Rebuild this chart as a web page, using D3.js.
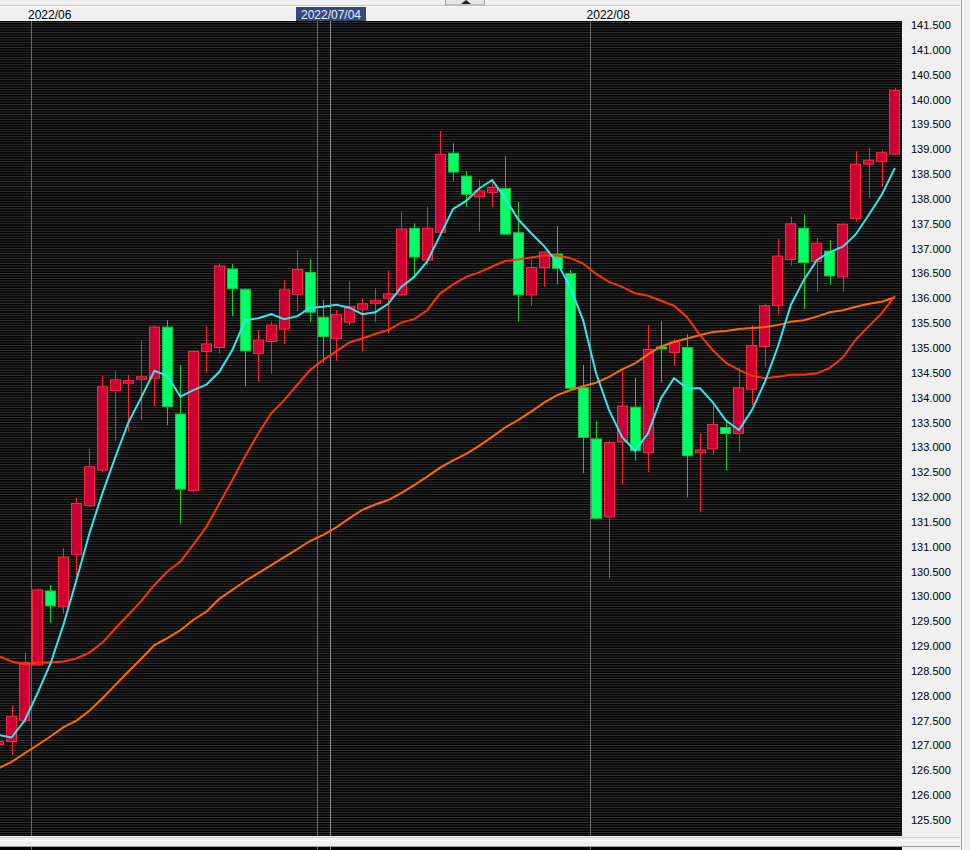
<!DOCTYPE html>
<html><head><meta charset="utf-8">
<script src="https://cdn.jsdelivr.net/npm/d3@7"></script>
<style>
html,body{margin:0;padding:0;background:#f0f0f0;overflow:hidden}
svg{display:block}
text{font-family:"Liberation Sans",Arial,sans-serif}
</style></head><body>
<svg id="chart" width="970" height="850"></svg>
<script>
const dates = ["2022/05/27","2022/05/30","2022/05/31","2022/06/01","2022/06/02","2022/06/03","2022/06/06","2022/06/07","2022/06/08","2022/06/09","2022/06/10","2022/06/13","2022/06/14","2022/06/15","2022/06/16","2022/06/17","2022/06/20","2022/06/21","2022/06/22","2022/06/23","2022/06/24","2022/06/27","2022/06/28","2022/06/29","2022/06/30","2022/07/01","2022/07/04","2022/07/05","2022/07/06","2022/07/07","2022/07/08","2022/07/11","2022/07/12","2022/07/13","2022/07/14","2022/07/15","2022/07/18","2022/07/19","2022/07/20","2022/07/21","2022/07/22","2022/07/25","2022/07/26","2022/07/27","2022/07/28","2022/07/29","2022/08/01","2022/08/02","2022/08/03","2022/08/04","2022/08/05","2022/08/08","2022/08/09","2022/08/10","2022/08/11","2022/08/12","2022/08/15","2022/08/16","2022/08/17","2022/08/18","2022/08/19","2022/08/22","2022/08/23","2022/08/24","2022/08/25","2022/08/26","2022/08/29","2022/08/30","2022/08/31","2022/09/01"];
const openValues  = [127.02,127.08,127.50,128.62,130.11,129.79,130.84,131.83,132.54,134.14,134.29,134.37,134.39,135.42,133.67,132.13,134.93,135.01,136.59,136.18,134.89,135.13,135.38,136.08,136.52,135.62,135.19,135.52,135.78,135.90,136.00,136.07,137.41,136.77,137.33,138.92,138.46,138.04,138.13,138.21,137.32,136.07,136.62,136.89,136.50,134.20,133.17,131.60,133.11,133.81,132.89,135.02,134.91,135.01,132.89,132.97,133.40,133.28,134.17,135.03,135.85,136.78,137.41,136.74,136.95,136.43,137.61,138.70,138.75,138.90];
const highValues  = [127.20,127.80,128.87,130.16,130.23,130.97,131.99,132.97,134.44,134.54,134.46,135.15,135.45,135.56,134.66,134.95,135.43,136.71,136.69,136.20,135.36,135.53,136.37,136.97,136.79,135.97,135.76,136.34,135.99,136.20,136.55,137.74,137.51,137.84,139.37,139.12,138.56,138.38,138.38,138.86,137.94,136.78,136.95,137.45,136.57,134.66,133.53,133.13,134.54,134.40,135.46,135.54,135.18,135.28,133.28,133.85,133.52,134.61,135.46,135.89,137.19,137.64,137.68,137.21,137.17,137.52,138.96,139.03,138.98,140.23];
const lowValues   = [126.90,126.81,127.45,128.60,129.47,129.65,130.40,131.80,132.50,133.13,133.32,133.55,133.83,133.45,131.46,132.09,134.50,134.89,135.64,134.23,134.32,134.48,135.08,135.74,135.52,134.70,134.74,135.46,134.93,135.52,135.30,136.05,136.43,136.66,137.30,138.36,137.84,137.34,137.84,137.28,135.53,135.85,136.23,136.28,134.15,132.48,131.55,130.37,132.26,132.73,132.50,134.30,134.64,131.99,131.69,132.85,132.53,132.91,133.85,134.61,135.68,136.66,135.78,136.13,136.27,136.13,137.54,138.02,138.25,138.88];
const closeValues = [127.08,127.58,128.67,130.13,129.81,130.79,131.87,132.61,134.22,134.36,134.34,134.42,135.42,133.82,132.16,134.93,135.08,136.65,136.19,134.94,135.16,135.46,136.17,136.58,135.72,135.23,135.67,135.83,135.89,135.96,136.09,137.39,136.83,137.41,138.90,138.54,138.09,138.16,138.23,137.29,136.07,136.62,136.93,136.60,134.19,133.20,131.57,133.10,133.83,132.93,134.97,134.98,135.12,132.83,132.95,133.46,133.28,134.20,135.05,135.85,136.85,137.50,136.72,137.11,136.45,137.49,138.70,138.78,138.93,140.18];
const ma5Values  = [127.21,127.16,127.50,128.05,128.65,129.43,130.33,131.27,132.08,132.81,133.50,134.01,134.54,134.44,134.02,134.15,134.26,134.52,134.96,135.56,135.60,135.68,135.58,135.64,135.81,135.83,135.87,135.81,135.68,135.72,135.89,136.23,136.43,136.74,137.27,137.80,137.96,138.21,138.38,138.01,137.59,137.31,137.05,136.72,136.23,135.56,134.49,133.75,133.21,132.93,133.28,133.99,134.39,134.19,134.19,133.90,133.54,133.35,133.75,134.32,135.03,135.87,136.37,136.77,136.93,137.04,137.29,137.68,138.09,138.62];
const ma25Values = [128.80,128.69,128.63,128.67,128.67,128.69,128.75,128.87,129.07,129.36,129.63,129.91,130.23,130.50,130.70,131.04,131.40,131.87,132.34,132.83,133.28,133.69,133.95,134.26,134.56,134.76,134.93,135.11,135.19,135.28,135.36,135.51,135.58,135.76,136.10,136.28,136.43,136.52,136.64,136.75,136.78,136.82,136.86,136.86,136.81,136.70,136.49,136.33,136.23,136.10,136.05,135.95,135.85,135.62,135.26,134.95,134.70,134.56,134.44,134.39,134.42,134.46,134.46,134.49,134.60,134.81,135.17,135.44,135.70,136.05];
const ma75Values = [126.54,126.67,126.84,127.01,127.18,127.37,127.50,127.70,127.95,128.22,128.49,128.75,129.02,129.16,129.32,129.53,129.69,129.95,130.13,130.31,130.47,130.63,130.79,130.95,131.12,131.24,131.39,131.57,131.74,131.85,131.94,132.08,132.24,132.41,132.59,132.74,132.87,133.03,133.21,133.40,133.55,133.72,133.90,134.05,134.15,134.23,134.30,134.42,134.57,134.69,134.87,135.03,135.12,135.19,135.26,135.32,135.34,135.38,135.40,135.42,135.46,135.53,135.56,135.63,135.72,135.76,135.83,135.89,135.93,136.02];
const priceTicks = [125.5,126,126.5,127,127.5,128,128.5,129,129.5,130,130.5,131,131.5,132,132.5,133,133.5,134,134.5,135,135.5,136,136.5,137,137.5,138,138.5,139,139.5,140,140.5,141,141.5];
const monthStarts = ["2022/06/01","2022/07/01","2022/08/01"];
const monthLabels = ["2022/06","","2022/08"];   // 2022/07 label hidden under the cursor label
const cursorDate = "2022/07/04";

const svg = d3.select("#chart");
const W = 970, H = 850;
const plot = {left:0, right:902, top:21, bottom:836};

const x = d3.scaleBand().domain(dates).range([-7.96, 901.34]).padding(0);
const bw = x.bandwidth();
const y = d3.scaleLinear().domain([125.5, 141.5]).range([820, 25]);
const cx = d => x(d) + bw/2;

// background UI
svg.append("rect").attr("x",0).attr("y",0).attr("width",W).attr("height",H).attr("fill","#f0f0f0");
svg.append("line").attr("x1",0).attr("x2",960).attr("y1",5.5).attr("y2",5.5).attr("stroke","#c4c4c4");
svg.append("line").attr("x1",0).attr("x2",960).attr("y1",6.5).attr("y2",6.5).attr("stroke","#ffffff");
// top tab
svg.append("rect").attr("x",445.5).attr("y",-3).attr("width",39).attr("height",8).attr("fill","#e4e4e4").attr("stroke","#a8a8a8");
svg.append("path").attr("d","M461,4 L466,0 L471,4 Z").attr("fill","#202020");

// right border
svg.append("line").attr("x1",961.5).attr("x2",961.5).attr("y1",0).attr("y2",H).attr("stroke","#a0a0a0");
svg.append("line").attr("x1",962.5).attr("x2",962.5).attr("y1",0).attr("y2",H).attr("stroke","#ffffff");

// plot background
svg.append("rect").attr("x",plot.left).attr("y",plot.top).attr("width",plot.right-plot.left).attr("height",plot.bottom-plot.top).attr("fill","#000");

// bottom separator & lower panel
svg.append("line").attr("x1",0).attr("x2",960).attr("y1",837.5).attr("y2",837.5).attr("stroke","#d0d0d0");
svg.append("line").attr("x1",0).attr("x2",960).attr("y1",840.5).attr("y2",840.5).attr("stroke","#ffffff");
svg.append("line").attr("x1",0).attr("x2",960).attr("y1",846.5).attr("y2",846.5).attr("stroke","#a0a0a0");
svg.append("rect").attr("x",0).attr("y",847).attr("width",plot.right).attr("height",3).attr("fill","#000");

const defs = svg.append("defs");
defs.append("clipPath").attr("id","clip").append("rect")
  .attr("x",plot.left).attr("y",plot.top).attr("width",plot.right-plot.left).attr("height",plot.bottom-plot.top);

const g = svg.append("g").attr("clip-path","url(#clip)");

// horizontal stripes (price grid every 0.05), covering the whole panel
const stripeVals = d3.range(0, 340).map(k => 125.15 + k*0.05);
g.append("g").selectAll("line").data(stripeVals).join("line")
  .attr("x1",0).attr("x2",plot.right)
  .attr("y1",v=>y(v)).attr("y2",v=>y(v))
  .attr("stroke","#333333").attr("stroke-width",1);

// month lines + cursor line
const vlines = monthStarts.concat([cursorDate]);
[g, svg.append("g")].forEach((grp,k)=>{
  grp.append("g").selectAll("line").data(vlines).join("line")
    .attr("x1",d=>Math.round(x(d))+0.5).attr("x2",d=>Math.round(x(d))+0.5)
    .attr("y1",k===0?plot.top:847).attr("y2",k===0?plot.bottom:850)
    .attr("stroke",d=>d===cursorDate?"#8c8c8c":"#6a6a6a").attr("stroke-width",1);
});

// candles
const idx = d3.range(dates.length);
const cg = g.append("g");
cg.selectAll("line.wick").data(idx).join("line").attr("class","wick")
  .attr("x1",i=>Math.round(cx(dates[i]))+0.5).attr("x2",i=>Math.round(cx(dates[i]))+0.5)
  .attr("y1",i=>y(highValues[i])).attr("y2",i=>y(lowValues[i]))
  .attr("stroke",i=>closeValues[i]>=openValues[i]?"#ff2030":"#18d018").attr("stroke-width",1);
cg.selectAll("rect.body").data(idx).join("rect").attr("class","body")
  .attr("x",i=>Math.round(x(dates[i]))+1.5)
  .attr("width",Math.round(bw)-3)
  .attr("y",i=>y(Math.max(openValues[i],closeValues[i])))
  .attr("height",i=>Math.max(1.5,Math.abs(y(openValues[i])-y(closeValues[i]))))
  .attr("fill",i=>closeValues[i]>=openValues[i]?"#cc0033":"#00ff66")
  .attr("stroke",i=>closeValues[i]>=openValues[i]?"#ff2a3c":"#12c83a").attr("stroke-width",1);

// moving averages
const line = d3.line().x((v,i)=>cx(dates[i])).y(v=>y(v));
g.append("path").datum(ma75Values).attr("d",line).attr("fill","none").attr("stroke","#ff6a00").attr("stroke-width",2);
g.append("path").datum(ma25Values).attr("d",line).attr("fill","none").attr("stroke","#ff3300").attr("stroke-width",2);
g.append("path").datum(ma5Values).attr("d",line).attr("fill","none").attr("stroke","#33e6ee").attr("stroke-width",2);

// price axis labels
svg.append("g").selectAll("text").data(priceTicks).join("text")
  .attr("x",911).attr("y",v=>y(v)+4)
  .attr("font-size",11).attr("fill","#000")
  .text(v=>d3.format(".3f")(v));

// month labels (only those shown)
const shownMonths = monthStarts.map((d,i)=>({d, label:monthLabels[i]})).filter(m=>m.label);
svg.append("g").selectAll("text").data(shownMonths).join("text")
  .attr("x",m=>x(m.d)-3).attr("y",19)
  .attr("font-size",12).attr("fill","#000")
  .text(m=>m.label);

// cursor label
const cxl = Math.round(x(cursorDate))+0.5;
svg.append("rect").attr("x",cxl-34.5).attr("y",7).attr("width",70).attr("height",14).attr("fill","#33497a");
svg.append("text").attr("x",cxl+0.5).attr("y",19).attr("text-anchor","middle")
  .attr("font-size",12).attr("fill","#e8eef8").text(cursorDate);
</script>
</body></html>
